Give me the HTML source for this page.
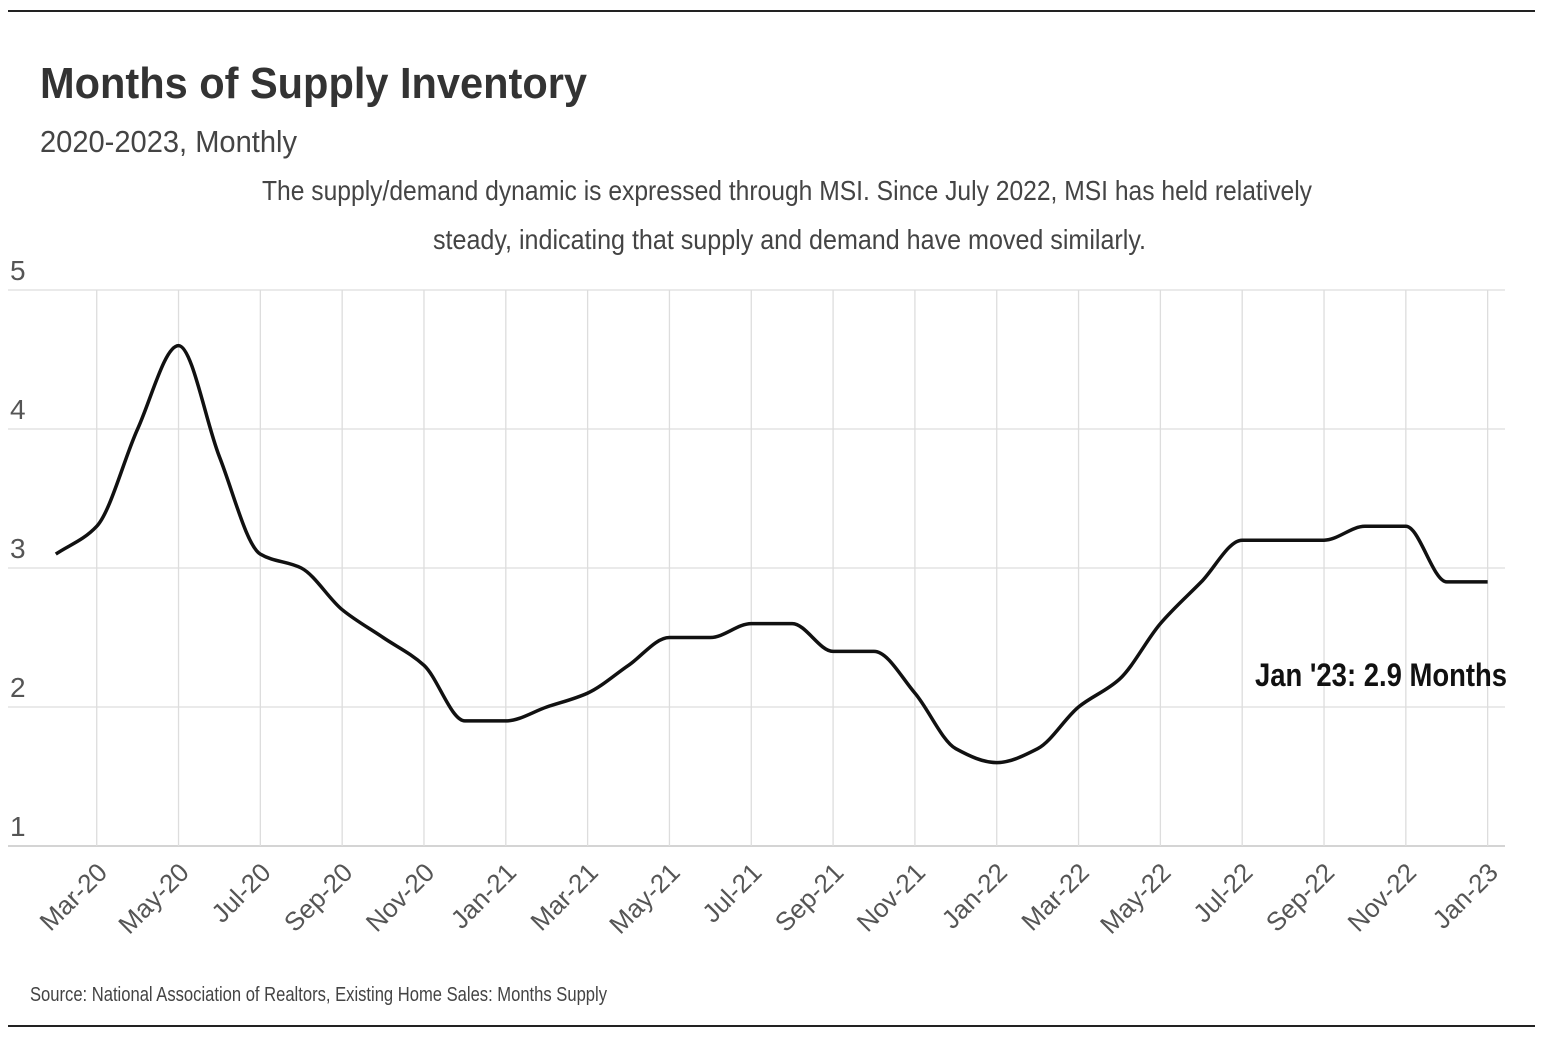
<!DOCTYPE html>
<html><head><meta charset="utf-8"><style>
html,body{margin:0;padding:0;background:#fff;}
svg{display:block;font-family:"Liberation Sans Narrow","Liberation Sans",sans-serif;}
</style></head><body>
<svg id="chart" width="1548" height="1040" viewBox="0 0 1548 1040" xmlns="http://www.w3.org/2000/svg">
<line x1="8" y1="11" x2="1535" y2="11" stroke="#222" stroke-width="2"/>
<line x1="8" y1="1026" x2="1535" y2="1026" stroke="#222" stroke-width="2"/>
<text x="40" y="98" font-size="44" font-weight="bold" fill="#333" textLength="547" lengthAdjust="spacingAndGlyphs">Months of Supply Inventory</text>
<text x="40" y="152" font-size="31" fill="#444" textLength="257" lengthAdjust="spacingAndGlyphs">2020-2023, Monthly</text>
<text x="262" y="200" font-size="28" fill="#444" textLength="1050" lengthAdjust="spacingAndGlyphs">The supply/demand dynamic is expressed through MSI. Since July 2022, MSI has held relatively</text>
<text x="433" y="249" font-size="28" fill="#444" textLength="713" lengthAdjust="spacingAndGlyphs">steady, indicating that supply and demand have moved similarly.</text>
<g id="grid"></g>
<g id="yaxis"></g>
<g id="xaxis"></g>
<path id="line" fill="none" stroke="#111" stroke-width="3.5" stroke-linejoin="round"/>
<text x="1255" y="686" font-size="32" font-weight="bold" fill="#111" textLength="252" lengthAdjust="spacingAndGlyphs">Jan '23: 2.9 Months</text>
<text x="30" y="1001" font-size="20" fill="#444" textLength="577" lengthAdjust="spacingAndGlyphs">Source:  National Association of Realtors, Existing Home Sales: Months Supply</text>
</svg>
<script>
const months = ["Feb-20","Mar-20","Apr-20","May-20","Jun-20","Jul-20","Aug-20","Sep-20","Oct-20","Nov-20","Dec-20","Jan-21","Feb-21","Mar-21","Apr-21","May-21","Jun-21","Jul-21","Aug-21","Sep-21","Oct-21","Nov-21","Dec-21","Jan-22","Feb-22","Mar-22","Apr-22","May-22","Jun-22","Jul-22","Aug-22","Sep-22","Oct-22","Nov-22","Dec-22","Jan-23"];
const msiValues = [3.1,3.3,4.0,4.6,3.8,3.1,3.0,2.7,2.5,2.3,1.9,1.9,2.0,2.1,2.3,2.5,2.5,2.6,2.6,2.4,2.4,2.1,1.7,1.6,1.7,2.0,2.2,2.6,2.9,3.2,3.2,3.2,3.3,3.3,2.9,2.9];
const yTicks = [1,2,3,4,5];
const xTickLabels = ["Mar-20","May-20","Jul-20","Sep-20","Nov-20","Jan-21","Mar-21","May-21","Jul-21","Sep-21","Nov-21","Jan-22","Mar-22","May-22","Jul-22","Sep-22","Nov-22","Jan-23"];

const NS="http://www.w3.org/2000/svg";
const x0=55.8, dx=40.91;
function xScale(i){return x0+i*dx;}
function yScale(v){return 846-(v-1)*139;}
function mk(tag,attrs,parent){const e=document.createElementNS(NS,tag);for(const k in attrs)e.setAttribute(k,attrs[k]);parent.appendChild(e);return e;}
const grid=document.getElementById('grid'), ya=document.getElementById('yaxis'), xa=document.getElementById('xaxis');
yTicks.forEach(t=>{
  const l=mk('line',{x1:8,x2:1505,y1:yScale(t),y2:yScale(t),stroke:t===1?'#bbb':'#ddd','stroke-width':1.3},grid);
  
  
  const tx=mk('text',{x:10,y:yScale(t)-10,'font-size':28,fill:'#555'},ya);
  tx.textContent=t;
  
  
});
xTickLabels.forEach(lab=>{
  const i=months.indexOf(lab);
  const x=xScale(i);
  const l=mk('line',{x1:x,x2:x,y1:290,y2:846,stroke:'#ddd','stroke-width':1.3},grid);
  
  
  const tx=mk('text',{x:x+12,y:874,'font-size':26,fill:'#555','text-anchor':'end',transform:`rotate(-45 ${x+12} 874)`},xa);
  tx.textContent=lab;
  
  
});
const px=msiValues.map((v,i)=>xScale(i)), py=msiValues.map(v=>yScale(v));
const n=px.length, s=[], m=[];
for(let i=0;i<n-1;i++)s.push((py[i+1]-py[i])/(px[i+1]-px[i]));
for(let i=0;i<n;i++){
  if(i===0)m.push(s[0]);else if(i===n-1)m.push(s[n-2]);
  else if(s[i-1]*s[i]<=0)m.push(0);
  else m.push(2*s[i-1]*s[i]/(s[i-1]+s[i]));
}
let d=`M${px[0]},${py[0]}`;
for(let i=0;i<n-1;i++){
  const h=px[i+1]-px[i];
  d+=`C${px[i]+h/3},${py[i]+m[i]*h/3} ${px[i+1]-h/3},${py[i+1]-m[i+1]*h/3} ${px[i+1]},${py[i+1]}`;
}
document.getElementById('line').setAttribute('d',d);
</script>
</body></html>
